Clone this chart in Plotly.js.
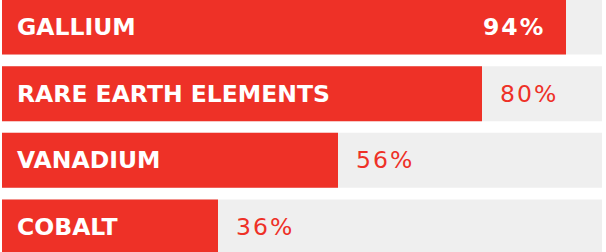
<!DOCTYPE html>
<html>
<head>
<meta charset="utf-8">
<script src="https://cdn.plot.ly/plotly-3.0.1.min.js"></script>
<style>html,body{margin:0;padding:0;background:#fff;}#chart{width:606px;height:252px;}</style>
</head>
<body>
<div id="chart"></div>
<script>
const categories = ["GALLIUM", "RARE EARTH ELEMENTS", "VANADIUM", "COBALT"];
const values = [94, 80, 56, 36];
const fullScale = [100, 100, 100, 100];
const valueLabels = ["94%", "80%", "56%", "36%"];

const RED = "#ee3127";
const GRAY = "#efefef";
const FONT = "'DejaVu Sans', sans-serif";

const traces = [
  {type: "bar", orientation: "h", y: categories, x: fullScale, width: 0.825,
   marker: {color: GRAY}, hoverinfo: "skip"},
  {type: "bar", orientation: "h", y: categories, x: values, width: 0.825,
   marker: {color: RED}, hoverinfo: "skip"}
];

const annotations = [];
categories.forEach((c, i) => {
  annotations.push({x: 0, y: c, xref: "x", yref: "y", text: c, showarrow: false,
    xanchor: "left", xshift: 13, yshift: 0,
    font: {family: FONT, size: 23.5, color: "#ffffff", weight: 700}});
  const inside = values[i] > 90;
  annotations.push({x: values[i], y: c, xref: "x", yref: "y",
    text: '<span style="letter-spacing:2px">' + valueLabels[i] + '</span>', showarrow: false,
    xanchor: inside ? "right" : "left", xshift: inside ? -19 : 16,
    font: {family: FONT, size: 23.5, color: inside ? "#ffffff" : RED, weight: inside ? 700 : 400}});
});

const layout = {
  width: 606, height: 252,
  margin: {l: 2, r: 4, t: 0, b: 0, pad: 0},
  paper_bgcolor: "#ffffff", plot_bgcolor: "#ffffff",
  barmode: "overlay", showlegend: false,
  xaxis: {range: [0, 100], visible: false, fixedrange: true},
  yaxis: {type: "category", range: [3.375, -0.405], visible: false, fixedrange: true},
  annotations: annotations
};

Plotly.newPlot("chart", traces, layout, {staticPlot: true, displayModeBar: false});
</script>
</body>
</html>
